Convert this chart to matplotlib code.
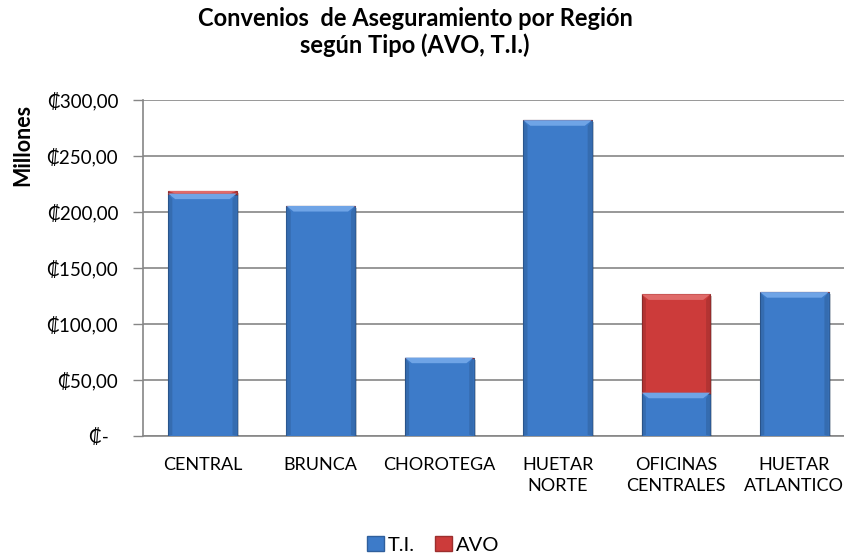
import numpy as np
import matplotlib.pyplot as plt
from matplotlib.patches import Polygon, Patch
from matplotlib.ticker import FuncFormatter
import matplotlib.patheffects as pe

plt.rcParams['font.family'] = ['Lato', 'DejaVu Sans']

regiones = ['CENTRAL', 'BRUNCA', 'CHOROTEGA', 'HUETAR\nNORTE',
            'OFICINAS\nCENTRALES', 'HUETAR\nATLANTICO']
ti = [216.5, 205.4, 70.0, 282.0, 38.7, 128.5]
avo = [2.3, 0.0, 0.0, 0.0, 87.8, 0.0]

c_ti = '#3d7bc9'
c_avo = '#cc3b3a'

fig = plt.figure(figsize=(8.44, 5.54), dpi=100)
ax = fig.add_axes([0.1697, 0.2130, 0.8416, 0.6065])

x = np.arange(len(regiones))
w = 0.58
shadow = [pe.SimplePatchShadow(offset=(1.5, -1.5), alpha=0.25), pe.Normal()]
b1 = ax.bar(x, ti, w, color=c_ti, edgecolor='#2f5f9c', linewidth=0.8,
            zorder=3, path_effects=shadow)
b2 = ax.bar(x, avo, w, bottom=ti, color=c_avo, edgecolor='#9c2f2e',
            linewidth=0.8, zorder=3, path_effects=shadow)


def bevel(bars, light):
    # lighter top face to mimic the excel bevel
    for r in bars:
        if r.get_height() <= 0:
            continue
        x0, y0 = r.get_x(), r.get_y() + r.get_height()
        x1 = x0 + r.get_width()
        h = min(5.0, r.get_height())
        d = 0.06
        ax.add_patch(Polygon([(x0, y0), (x1, y0), (x1 - d, y0 - h), (x0 + d, y0 - h)],
                             closed=True, color=light, zorder=4, lw=0))
        ax.add_patch(Polygon([(x0, r.get_y()), (x0 + d * 0.6, r.get_y() + 1),
                              (x0 + d * 0.6, y0 - h), (x0, y0)],
                             closed=True, color='black', alpha=0.12, zorder=4, lw=0))
        ax.add_patch(Polygon([(x1, r.get_y()), (x1 - d * 0.6, r.get_y() + 1),
                              (x1 - d * 0.6, y0 - h), (x1, y0)],
                             closed=True, color='black', alpha=0.12, zorder=4, lw=0))


bevel(b1, '#6fa4e6')
bevel(b2, '#e06a69')

ax.set_xlim(-0.5, len(regiones) - 0.5)
ax.set_ylim(0, 300)
ax.set_yticks(np.arange(0, 301, 50))
ax.yaxis.set_major_formatter(FuncFormatter(
    lambda v, p: '₡-  ' if v == 0 else ('₡%.2f' % v).replace('.', ',')))
ax.set_xticks(x)
ax.set_xticklabels(regiones, fontsize=13, linespacing=1.4, va='top')
ax.tick_params(axis='x', length=0, pad=15)
ax.tick_params(axis='y', length=7, width=1, color='#868686', labelsize=13.5, pad=11)

ax.grid(axis='y', color='#868686', linewidth=1.2, zorder=0)
for s in ['top', 'right']:
    ax.spines[s].set_visible(False)
for s in ['left', 'bottom']:
    ax.spines[s].set_color('#868686')
    ax.spines[s].set_linewidth(1.2)

fig.text(0.027, 0.738, 'Millones', rotation=90, ha='center', va='center',
         fontsize=15.5, fontweight='bold')
fig.text(0.492, 0.942, 'Convenios  de Aseguramiento por Región\nsegún Tipo (AVO, T.I.)',
         ha='center', va='center', fontsize=17, fontweight='bold', linespacing=1.2)

handles = [Patch(facecolor=c_ti, edgecolor='#2f5f9c', label='T.I.'),
           Patch(facecolor=c_avo, edgecolor='#9c2f2e', label='AVO')]
fig.legend(handles=handles, loc='center', bbox_to_anchor=(0.513, 0.016), ncol=2,
           frameon=False, fontsize=14.5, handlelength=0.85, handleheight=0.75,
           handletextpad=0.2, columnspacing=1.0, borderpad=0)

fig.savefig('out.png', dpi=100)
